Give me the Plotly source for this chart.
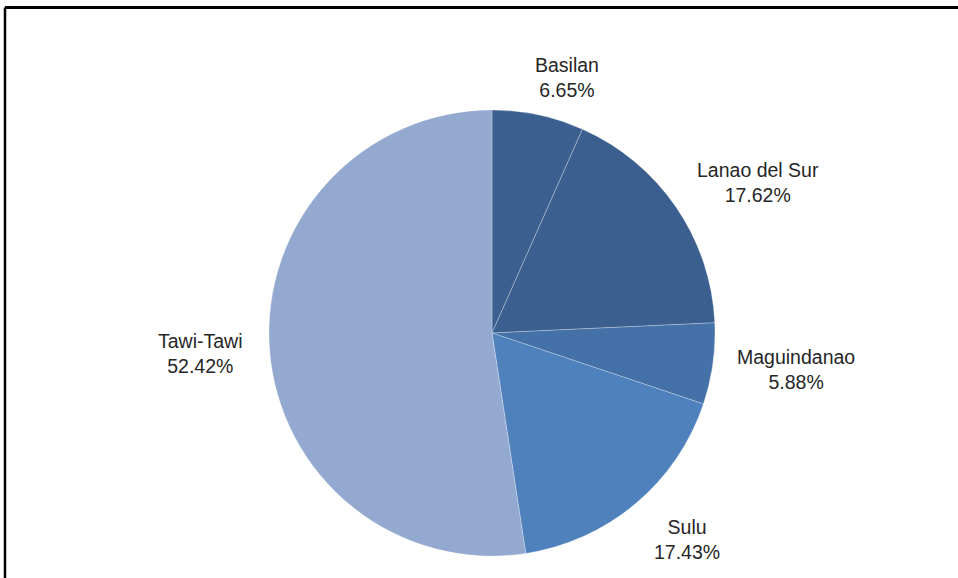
import math
import plotly.graph_objects as go

# Data
provinces = ["Basilan", "Lanao del Sur", "Maguindanao", "Sulu", "Tawi-Tawi"]
shares = [6.65, 17.62, 5.88, 17.43, 52.42]
colors = ["#3B5F8F", "#3B5F8F", "#4471A8", "#4F81BD", "#94A9D0"]

# Small label nudges (pixels) to mimic the best-fit label placement
label_dx = [24, 0, 0, 2, -2]
label_dy = [-10, -13, -3, 7, -2]

W, H = 958, 578
cx, cy, r = 492, 333, 223  # pie centre / radius in pixels (layout)

fig = go.Figure(go.Pie(
    labels=provinces,
    values=shares,
    sort=False,
    direction="clockwise",
    rotation=0,
    marker=dict(colors=colors, line=dict(color="rgba(255,255,255,0.45)", width=0.6)),
    textinfo="none",
    hoverinfo="label+percent",
    domain=dict(x=[(cx - r) / W, (cx + r) / W], y=[1 - (cy + r) / H, 1 - (cy - r) / H]),
    showlegend=False,
))

# Outside labels positioned from the slice mid-angles
total = sum(shares)
cum = 0.0
annotations = []
for name, v, dx, dy in zip(provinces, shares, label_dx, label_dy):
    mid = (cum + v / 2) / total * 2 * math.pi
    cum += v
    s, c = math.sin(mid), math.cos(mid)
    px = cx + 1.1 * r * s
    py = cy - 1.1 * r * c
    xa = "left" if s > 0.3 else ("right" if s < -0.3 else "center")
    ya = "bottom" if c > 0.3 else ("top" if c < -0.3 else "middle")
    annotations.append(dict(
        x=px / W, y=1 - py / H, xref="paper", yref="paper",
        xshift=dx, yshift=dy,
        text=f"{name}<br>{v:.2f}%", showarrow=False,
        xanchor=xa, yanchor=ya, align="center",
        font=dict(family="Liberation Sans, Arial, sans-serif", size=19.5, color="#262626"),
    ))

fig.update_layout(
    width=W, height=H,
    margin=dict(l=0, r=0, t=0, b=0),
    paper_bgcolor="white",
    plot_bgcolor="white",
    annotations=annotations,
    shapes=[
        dict(type="line", xref="paper", yref="paper", x0=5 / W, x1=1, y0=1 - 7.5 / H, y1=1 - 7.5 / H,
             line=dict(color="black", width=3)),
        dict(type="line", xref="paper", yref="paper", x0=5 / W, x1=5 / W, y0=0, y1=1 - 7.5 / H,
             line=dict(color="black", width=2.5)),
    ],
)

fig.write_html("out.html")
